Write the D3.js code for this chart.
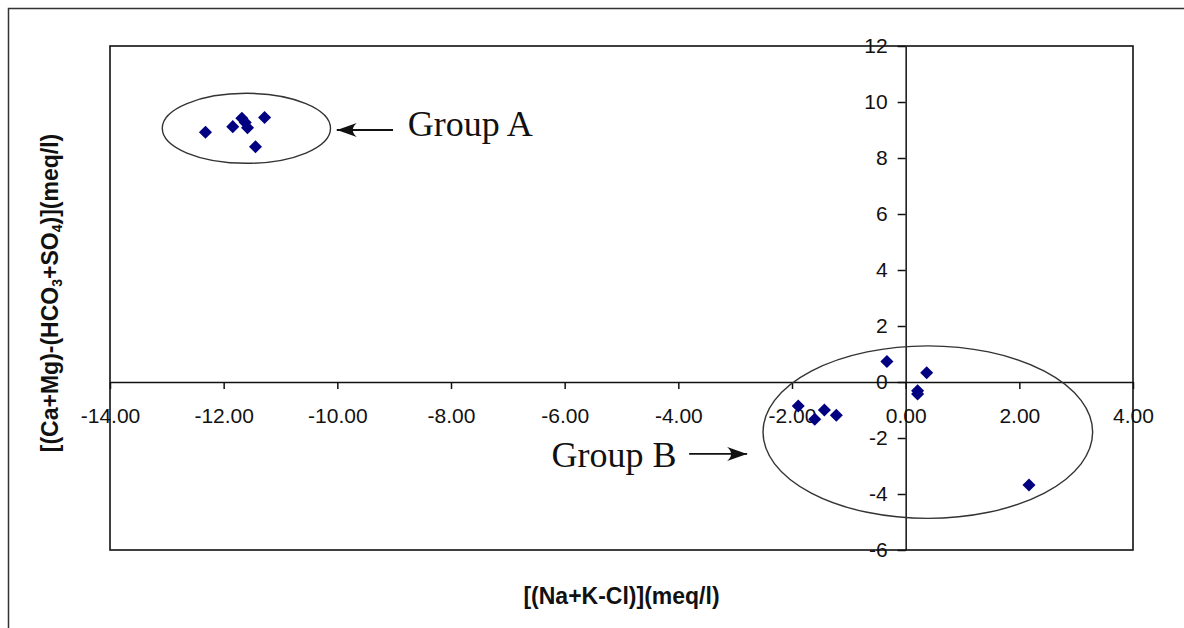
<!DOCTYPE html>
<html>
<head>
<meta charset="utf-8">
<script src="https://cdn.jsdelivr.net/npm/d3@7"></script>
<style>
  body { margin: 0; background: #fff; }
  svg { display: block; }
  .tick text { font-family: "Liberation Sans", Arial, sans-serif; font-size: 21px; fill: #111; }
  .axis-title { font-family: "Liberation Sans", Arial, sans-serif; font-weight: bold; font-size: 23px; fill: #111; }
  .note { font-family: "Liberation Serif", "Times New Roman", serif; font-size: 36px; fill: #111; }
</style>
</head>
<body>
<div id="chart"></div>
<script>
// scatter values (meq/l)
var groupAX = [-12.32, -11.84, -11.68, -11.62, -11.58, -11.28, -11.44];
var groupAY = [8.92, 9.12, 9.42, 9.27, 9.08, 9.45, 8.40];
var groupBX = [-0.33, 0.37, 0.21, 0.21, -1.89, -1.60, -1.43, -1.22, 2.17];
var groupBY = [0.73, 0.33, -0.31, -0.43, -0.86, -1.33, -1.00, -1.19, -3.68];

var xTicks = [-14, -12, -10, -8, -6, -4, -2, 0, 2, 4];
var yTicks = [-6, -4, -2, 0, 2, 4, 6, 8, 10, 12];

// group outlines: centre and radii in data units
var groupNames = ["Group A", "Group B"];
var ellipseCX = [-11.6, 0.39];
var ellipseCY = [9.06, -1.79];
var ellipseRX = [1.48, 2.9];
var ellipseRY = [1.25, 3.08];
// label + arrow (data units): text start, arrow tail, arrow tip
var labelX = [-8.76, -6.23];
var labelY = [8.77, -3.03];
var arrowY = [9.0, -2.57];
var arrowFrom = [-9.02, -3.81];
var arrowTo = [-10.01, -2.79];

var W = 1184, H = 628;
var plot = {left: 110, top: 46, right: 1133, bottom: 550};

var svg = d3.select("#chart").append("svg")
    .attr("width", W)
    .attr("height", H);

// outer frame (only top and left edges are inside the picture)
svg.append("rect")
    .attr("x", 8.5).attr("y", 8.5)
    .attr("width", W + 20).attr("height", H + 20)
    .attr("fill", "none")
    .attr("stroke", "#333")
    .attr("stroke-width", 1.5);

var x = d3.scaleLinear().domain([-14, 4]).range([plot.left, plot.right]);
var y = d3.scaleLinear().domain([-6, 12]).range([plot.bottom, plot.top]);

svg.append("rect")
    .attr("x", plot.left).attr("y", plot.top)
    .attr("width", plot.right - plot.left)
    .attr("height", plot.bottom - plot.top)
    .attr("fill", "none")
    .attr("stroke", "#111")
    .attr("stroke-width", 1.6);

// x axis crosses at y = 0
var xAxis = d3.axisBottom(x)
    .tickValues(xTicks)
    .tickSize(7)
    .tickSizeOuter(0)
    .tickPadding(19)
    .tickFormat(function(d) { return d.toFixed(2); });

svg.append("g")
    .attr("transform", "translate(0," + y(0) + ")")
    .call(xAxis)
    .call(function(g) {
        g.select(".domain").attr("stroke", "#111").attr("stroke-width", 1.5);
        g.selectAll(".tick line").attr("stroke", "#111").attr("stroke-width", 1.5);
    });

// y axis crosses at x = 0
var yAxis = d3.axisLeft(y)
    .tickValues(yTicks)
    .tickSize(8)
    .tickSizeOuter(0)
    .tickPadding(10)
    .tickFormat(function(d) { return String(d); });

svg.append("g")
    .attr("transform", "translate(" + x(0) + ",0)")
    .call(yAxis)
    .call(function(g) {
        g.select(".domain").attr("stroke", "#111").attr("stroke-width", 1.5);
        g.selectAll(".tick line").attr("stroke", "#111").attr("stroke-width", 1.5);
    });

// axis titles
svg.append("text")
    .attr("class", "axis-title")
    .attr("x", (plot.left + plot.right) / 2)
    .attr("y", 604)
    .attr("text-anchor", "middle")
    .text("[(Na+K-Cl)](meq/l)");

var yt = svg.append("text")
    .attr("class", "axis-title")
    .attr("text-anchor", "middle")
    .attr("transform", "translate(58," + 293 + ") rotate(-90)");
yt.append("tspan").text("[(Ca+Mg)-(HCO");
yt.append("tspan").attr("font-size", 14).attr("dy", 4).text("3");
yt.append("tspan").attr("dy", -4).text("+SO");
yt.append("tspan").attr("font-size", 14).attr("dy", 4).text("4");
yt.append("tspan").attr("dy", -4).text(")](meq/l)");

// group ellipses
svg.selectAll("ellipse.group")
    .data(groupNames)
    .enter().append("ellipse")
    .attr("class", "group")
    .attr("cx", function(d, i) { return x(ellipseCX[i]); })
    .attr("cy", function(d, i) { return y(ellipseCY[i]); })
    .attr("rx", function(d, i) { return x(ellipseCX[i] + ellipseRX[i]) - x(ellipseCX[i]); })
    .attr("ry", function(d, i) { return y(ellipseCY[i] - ellipseRY[i]) - y(ellipseCY[i]); })
    .attr("fill", "none")
    .attr("stroke", "#333")
    .attr("stroke-width", 1.4);

// points
var points = groupAX.map(function(v, i) { return {x: v, y: groupAY[i]}; })
    .concat(groupBX.map(function(v, i) { return {x: v, y: groupBY[i]}; }));

var diamond = d3.symbol().type(d3.symbolSquare).size(85);

svg.selectAll("path.pt")
    .data(points)
    .enter().append("path")
    .attr("class", "pt")
    .attr("d", diamond)
    .attr("transform", function(d) {
        return "translate(" + x(d.x) + "," + y(d.y) + ") rotate(45)";
    })
    .attr("fill", "#000080");

// arrows + group labels
svg.append("defs").append("marker")
    .attr("id", "head")
    .attr("viewBox", "0 -7 20 14")
    .attr("refX", 20).attr("refY", 0)
    .attr("markerWidth", 20).attr("markerHeight", 14)
    .attr("markerUnits", "userSpaceOnUse")
    .attr("orient", "auto")
    .append("path")
    .attr("d", "M0,-7 Q8,0 0,7 L20,0 Z")
    .attr("fill", "#111");

svg.selectAll("line.arrow")
    .data(groupNames)
    .enter().append("line")
    .attr("class", "arrow")
    .attr("x1", function(d, i) { return x(arrowFrom[i]); })
    .attr("x2", function(d, i) { return x(arrowTo[i]); })
    .attr("y1", function(d, i) { return y(arrowY[i]); })
    .attr("y2", function(d, i) { return y(arrowY[i]); })
    .attr("stroke", "#111")
    .attr("stroke-width", 1.8)
    .attr("marker-end", "url(#head)");

svg.selectAll("text.note")
    .data(groupNames)
    .enter().append("text")
    .attr("class", "note")
    .attr("x", function(d, i) { return x(labelX[i]); })
    .attr("y", function(d, i) { return y(labelY[i]); })
    .text(function(d) { return d; });
</script>
</body>
</html>
